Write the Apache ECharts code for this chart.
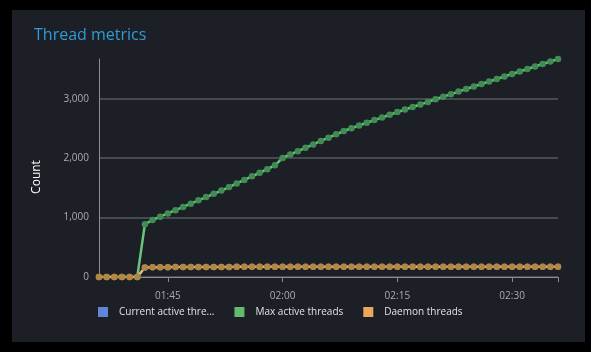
<!DOCTYPE html>
<html>
<head>
<meta charset="utf-8">
<script src="https://cdn.jsdelivr.net/npm/echarts@6/dist/echarts.min.js"></script>
<style>
html,body{margin:0;padding:0;background:#000;width:591px;height:352px;overflow:hidden;}
#panel{position:absolute;left:12px;top:10px;width:573px;height:332px;background:#1c1f25;}
</style>
</head>
<body>
<div id="panel"></div>
<script>
const categories = ["01:36","01:37","01:38","01:39","01:40","01:41","01:42","01:43","01:44","01:45",
"01:46","01:47","01:48","01:49","01:50","01:51","01:52","01:53","01:54","01:55",
"01:56","01:57","01:58","01:59","02:00","02:01","02:02","02:03","02:04","02:05",
"02:06","02:07","02:08","02:09","02:10","02:11","02:12","02:13","02:14","02:15",
"02:16","02:17","02:18","02:19","02:20","02:21","02:22","02:23","02:24","02:25",
"02:26","02:27","02:28","02:29","02:30","02:31","02:32","02:33","02:34","02:35","02:36"];
const shownTimeLabels = ["01:45","02:00","02:15","02:30"];

const maxActive = [0,0,0,0,0,0,890,960,1015,1070,
1125,1180,1235,1290,1345,1400,1455,1515,1575,1635,
1695,1755,1815,1880,2005,2062,2118,2175,2232,2290,
2346,2402,2458,2505,2550,2596,2641,2686,2731,2776,
2820,2862,2903,2948,2992,3035,3078,3121,3164,3207,
3250,3292,3334,3376,3418,3460,3502,3544,3586,3628,3670];

const daemon = [0,0,0,0,0,0,160,163,165,166,
167,168,168,169,169,170,170,170,171,171,
171,171,172,172,172,172,172,172,172,172,
172,172,172,172,172,172,172,172,172,172,
172,172,172,172,172,172,172,172,172,172,
172,172,172,172,172,172,172,172,172,172,172];

const currentActive = daemon.slice();

const seriesNames = ["Current active threads","Max active threads","Daemon threads"];

const chart = echarts.init(document.getElementById('panel'), null, {width:573, height:332});
chart.setOption({
  backgroundColor: '#1c1f25',
  animation: false,
  textStyle: {fontFamily: 'Open Sans'},
  title: {
    text: 'Thread metrics', left: 17, top: 12,
    textStyle: {color: '#2f9bd7', fontSize: 16, fontWeight: 'normal', fontFamily: 'Open Sans'}
  },
  grid: {left: 87, right: 27, top: 49, bottom: 65},
  legend: {
    left: 81, top: 292, itemWidth: 10, itemHeight: 10, itemGap: 20, icon: 'rect',
    textStyle: {color: '#e0e2e6', fontSize: 10, padding: [0,0,0,6]},
    formatter: function(n){ return n === seriesNames[0] ? 'Current active thre...' : n; },
    data: [
      {name: seriesNames[0], itemStyle: {color: '#6385d9'}},
      {name: seriesNames[1], itemStyle: {color: '#63b96d'}},
      {name: seriesNames[2], itemStyle: {color: '#eba85b'}}
    ]
  },
  xAxis: {
    type: 'category', data: categories, boundaryGap: false,
    axisLine: {lineStyle: {color: '#8a8d93'}},
    axisTick: {show: true, length: 5, lineStyle: {color: '#8a8d93'},
      interval: function(i, v){ return shownTimeLabels.indexOf(v) >= 0 || i === categories.length - 1; }},
    axisLabel: {color: '#a9acb2', fontSize: 10, margin: 14,
      interval: function(i, v){ return shownTimeLabels.indexOf(v) >= 0; }},
    splitLine: {show: false}
  },
  yAxis: {
    type: 'value', min: 0, max: 3670, interval: 1000,
    name: 'Count', nameLocation: 'middle', nameGap: 56,
    nameTextStyle: {color: '#ffffff', fontSize: 12, fontFamily: 'Open Sans', padding: [0,18,0,0]},
    axisLine: {show: true, lineStyle: {color: '#8a8d93'}},
    axisTick: {show: false},
    axisLabel: {color: '#a9acb2', fontSize: 10, margin: 10, showMaxLabel: false,
      formatter: function(v){ return v % 1000 === 0 ? v.toLocaleString('en-US') : ''; }},
    splitLine: {showMaxLine: false, lineStyle: {color: '#55585d', width: 1.5}}
  },
  series: [
    {name: seriesNames[0], type: 'line', data: currentActive, symbol: 'circle', symbolSize: 6.5, showAllSymbol: true,
      itemStyle: {color: '#4f6fc0'}, lineStyle: {color: '#6385d9', width: 2}},
    {name: seriesNames[1], type: 'line', data: maxActive, symbol: 'circle', symbolSize: 6.5, showAllSymbol: true,
      itemStyle: {color: '#3f8d52'}, lineStyle: {color: '#6cc47b', width: 2.5}},
    {name: seriesNames[2], type: 'line', data: daemon, symbol: 'circle', symbolSize: 6.5, showAllSymbol: true,
      itemStyle: {color: '#b6863c'}, lineStyle: {color: '#f3b86c', width: 2.5}}
  ]
});
</script>
</body>
</html>
